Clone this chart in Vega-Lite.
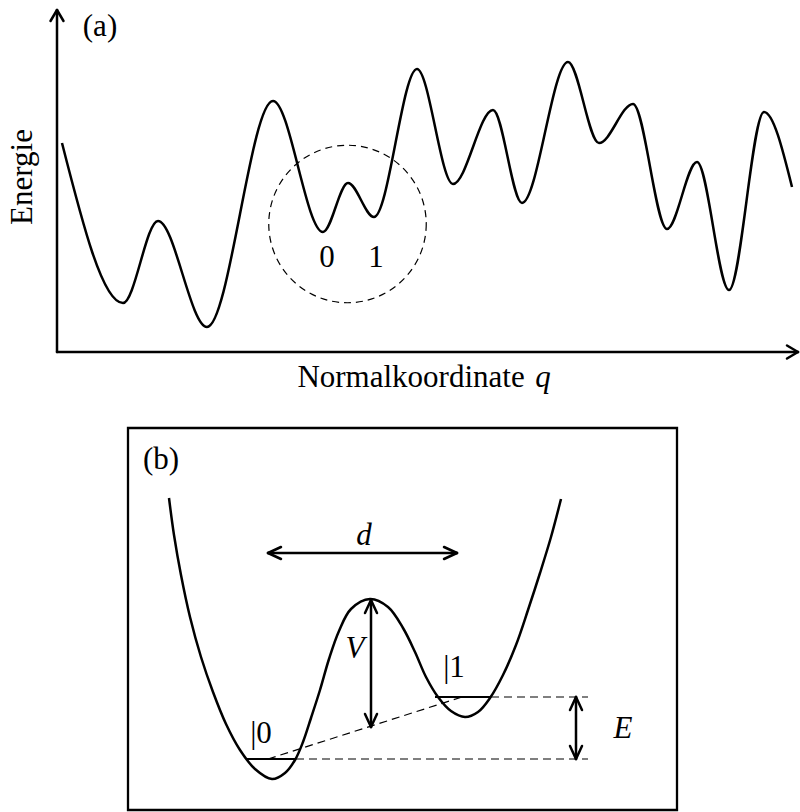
{
  "$schema": "https://vega.github.io/schema/vega-lite/v6.json",
  "width": 800,
  "height": 812,
  "autosize": {"type": "fit", "contains": "padding"},
  "padding": 0,
  "background": "white",
  "config": {"view": {"stroke": null}},
  "datasets": {
    "curveA": [
      {"x": 62, "y": 143}, {"x": 123, "y": 303}, {"x": 158, "y": 221},
      {"x": 207, "y": 327}, {"x": 273, "y": 101},
      {"x": 323, "y": 232}, {"x": 348, "y": 183}, {"x": 374, "y": 217},
      {"x": 417, "y": 69}, {"x": 453, "y": 184},
      {"x": 493, "y": 110}, {"x": 522, "y": 203}, {"x": 568, "y": 62},
      {"x": 599, "y": 143}, {"x": 633, "y": 104},
      {"x": 667, "y": 229}, {"x": 697, "y": 162}, {"x": 729, "y": 290},
      {"x": 764, "y": 112}, {"x": 792, "y": 187}
    ],
    "curveB": [
      {"x": 169, "y": 498}, {"x": 174, "y": 535}, {"x": 181, "y": 575}, {"x": 190, "y": 617}, {"x": 201, "y": 657},
      {"x": 213, "y": 692}, {"x": 226, "y": 724}, {"x": 240, "y": 750}, {"x": 255, "y": 769}, {"x": 272, "y": 779},
      {"x": 285, "y": 773}, {"x": 295, "y": 760}, {"x": 303, "y": 742}, {"x": 311, "y": 718}, {"x": 320, "y": 690},
      {"x": 329, "y": 659}, {"x": 339, "y": 631}, {"x": 351, "y": 609}, {"x": 370, "y": 599}, {"x": 388, "y": 607},
      {"x": 403, "y": 628}, {"x": 415, "y": 652}, {"x": 426, "y": 677}, {"x": 438, "y": 697}, {"x": 451, "y": 711},
      {"x": 465, "y": 717}, {"x": 478, "y": 712}, {"x": 490, "y": 698}, {"x": 503, "y": 675}, {"x": 516, "y": 645},
      {"x": 528, "y": 610}, {"x": 540, "y": 573}, {"x": 551, "y": 537}, {"x": 561, "y": 499}
    ],
    "thick": [
      {"x": 57, "y": 10, "x2": 57, "y2": 352},
      {"x": 57, "y": 352, "x2": 798, "y2": 352},
      {"x": 57, "y": 10, "x2": 50.5, "y2": 21},
      {"x": 57, "y": 10, "x2": 63.5, "y2": 21},
      {"x": 798, "y": 352, "x2": 787, "y2": 345.5},
      {"x": 798, "y": 352, "x2": 787, "y2": 358.5},
      {"x": 268, "y": 553, "x2": 457, "y2": 553},
      {"x": 268, "y": 553, "x2": 281, "y2": 547},
      {"x": 268, "y": 553, "x2": 281, "y2": 559},
      {"x": 457, "y": 553, "x2": 444, "y2": 547},
      {"x": 457, "y": 553, "x2": 444, "y2": 559},
      {"x": 371, "y": 600, "x2": 371, "y2": 727},
      {"x": 371, "y": 600, "x2": 365, "y2": 613},
      {"x": 371, "y": 600, "x2": 377, "y2": 613},
      {"x": 371, "y": 727, "x2": 365, "y2": 714},
      {"x": 371, "y": 727, "x2": 377, "y2": 714},
      {"x": 576, "y": 697, "x2": 576, "y2": 759},
      {"x": 576, "y": 697, "x2": 570, "y2": 710},
      {"x": 576, "y": 697, "x2": 582, "y2": 710},
      {"x": 576, "y": 759, "x2": 570, "y2": 746},
      {"x": 576, "y": 759, "x2": 582, "y2": 746}
    ],
    "levels": [
      {"x": 246, "y": 759, "x2": 296, "y2": 759},
      {"x": 435, "y": 697, "x2": 491, "y2": 697}
    ],
    "dashed": [
      {"x": 296, "y": 759, "x2": 588, "y2": 759},
      {"x": 491, "y": 697, "x2": 588, "y2": 697},
      {"x": 268, "y": 759, "x2": 462, "y2": 697}
    ],
    "box": [{"x": 128, "y": 428, "x2": 677, "y2": 810}],
    "circle": [{"x": 347.5, "y": 224}],
    "roman": [
      {"x": 100, "y": 36, "text": "(a)"},
      {"x": 411, "y": 387, "text": "Normalkoordinate"},
      {"x": 327, "y": 267, "text": "0"},
      {"x": 376, "y": 267, "text": "1"},
      {"x": 161, "y": 469, "text": "(b)"},
      {"x": 261, "y": 743, "text": "|0"},
      {"x": 454, "y": 677, "text": "|1"}
    ],
    "italic": [
      {"x": 543, "y": 387, "text": "q"},
      {"x": 364, "y": 545, "text": "d"},
      {"x": 355, "y": 658, "text": "V"},
      {"x": 623, "y": 738, "text": "E"}
    ],
    "ylabel": [{"x": 32, "y": 177, "text": "Energie"}]
  },
  "layer": [
    {
      "data": {"name": "box"},
      "mark": {"type": "rect", "fill": null, "stroke": "black", "strokeWidth": 2.3},
      "encoding": {
        "x": {"field": "x", "type": "quantitative", "scale": {"domain": [0, 800], "nice": false, "zero": false}, "axis": null},
        "y": {"field": "y", "type": "quantitative", "scale": {"domain": [0, 812], "nice": false, "zero": false, "reverse": true}, "axis": null},
        "x2": {"field": "x2"},
        "y2": {"field": "y2"}
      }
    },
    {
      "data": {"name": "curveA"},
      "mark": {"type": "line", "interpolate": "monotone", "color": "black", "strokeWidth": 2.5},
      "encoding": {
        "x": {"field": "x", "type": "quantitative"},
        "y": {"field": "y", "type": "quantitative"}
      }
    },
    {
      "data": {"name": "curveB"},
      "mark": {"type": "line", "interpolate": "catmull-rom", "color": "black", "strokeWidth": 2.5},
      "encoding": {
        "x": {"field": "x", "type": "quantitative"},
        "y": {"field": "y", "type": "quantitative"}
      }
    },
    {
      "data": {"name": "thick"},
      "mark": {"type": "rule", "color": "black", "strokeWidth": 2.5, "strokeCap": "round"},
      "encoding": {
        "x": {"field": "x", "type": "quantitative"},
        "y": {"field": "y", "type": "quantitative"},
        "x2": {"field": "x2"},
        "y2": {"field": "y2"}
      }
    },
    {
      "data": {"name": "levels"},
      "mark": {"type": "rule", "color": "black", "strokeWidth": 2.2},
      "encoding": {
        "x": {"field": "x", "type": "quantitative"},
        "y": {"field": "y", "type": "quantitative"},
        "x2": {"field": "x2"},
        "y2": {"field": "y2"}
      }
    },
    {
      "data": {"name": "dashed"},
      "mark": {"type": "rule", "color": "black", "strokeWidth": 1.2, "strokeDash": [8, 5]},
      "encoding": {
        "x": {"field": "x", "type": "quantitative"},
        "y": {"field": "y", "type": "quantitative"},
        "x2": {"field": "x2"},
        "y2": {"field": "y2"}
      }
    },
    {
      "data": {"name": "circle"},
      "mark": {"type": "point", "shape": "circle", "filled": false, "size": 24800, "color": "black", "strokeWidth": 1.2, "strokeDash": [7, 5], "opacity": 1},
      "encoding": {
        "x": {"field": "x", "type": "quantitative"},
        "y": {"field": "y", "type": "quantitative"}
      }
    },
    {
      "data": {"name": "roman"},
      "mark": {"type": "text", "font": "Liberation Serif", "fontSize": 31, "align": "center", "baseline": "alphabetic", "color": "black"},
      "encoding": {
        "x": {"field": "x", "type": "quantitative"},
        "y": {"field": "y", "type": "quantitative"},
        "text": {"field": "text"}
      }
    },
    {
      "data": {"name": "italic"},
      "mark": {"type": "text", "font": "Liberation Serif", "fontStyle": "italic", "fontSize": 31, "align": "center", "baseline": "alphabetic", "color": "black"},
      "encoding": {
        "x": {"field": "x", "type": "quantitative"},
        "y": {"field": "y", "type": "quantitative"},
        "text": {"field": "text"}
      }
    },
    {
      "data": {"name": "ylabel"},
      "mark": {"type": "text", "font": "Liberation Serif", "fontSize": 31, "align": "center", "baseline": "alphabetic", "angle": 270, "color": "black"},
      "encoding": {
        "x": {"field": "x", "type": "quantitative"},
        "y": {"field": "y", "type": "quantitative"},
        "text": {"field": "text"}
      }
    }
  ]
}
